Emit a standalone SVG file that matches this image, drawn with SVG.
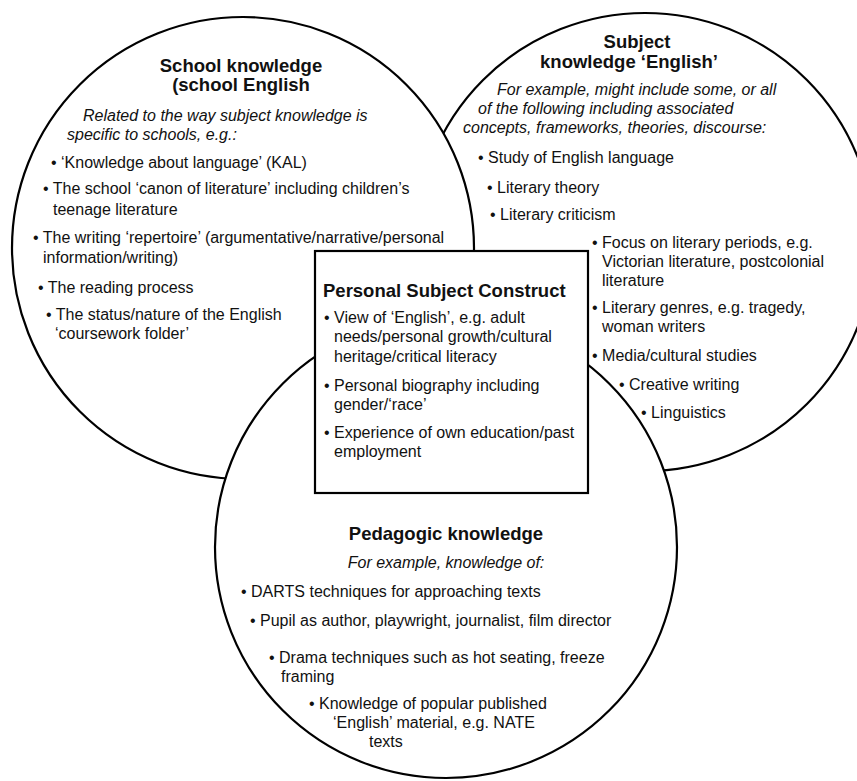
<svg xmlns="http://www.w3.org/2000/svg" width="857" height="781" viewBox="0 0 857 781">
<style>
.c{fill:#fff;stroke:#000;stroke-width:2.2}
text{font-family:"Liberation Sans",Arial,sans-serif;fill:#111;font-size:16px}
.t{font-weight:bold;font-size:18.5px}
.i{font-style:italic}
.m{text-anchor:middle}
</style>
<rect width="857" height="781" fill="#fff"/>
<g id="subject-knowledge">
<circle class="c" cx="645" cy="242" r="229"/>
<text class="t m" x="637" y="48">Subject</text>
<text class="t m" x="629" y="68">knowledge ‘English’</text>
<text class="i" x="497" y="95">For example, might include some, or all</text>
<text class="i" x="478" y="114">of the following including associated</text>
<text class="i" x="463" y="133">concepts, frameworks, theories, discourse:</text>
<text x="478" y="163">• Study of English language</text>
<text x="487" y="193">• Literary theory</text>
<text x="490" y="220">• Literary criticism</text>
<text x="592" y="248">• Focus on literary periods, e.g.<tspan x="602" y="267">Victorian literature, postcolonial</tspan><tspan x="602" y="286">literature</tspan></text>
<text x="592" y="313">• Literary genres, e.g. tragedy,<tspan x="602" y="332">woman writers</tspan></text>
<text x="592" y="361">• Media/cultural studies</text>
<text x="619" y="390">• Creative writing</text>
<text x="641" y="418">• Linguistics</text>
</g>
<g id="school-knowledge">
<circle class="c" cx="243" cy="248" r="231"/>
<text class="t m" x="241" y="72">School knowledge</text>
<text class="t m" x="241" y="91">(school English</text>
<text class="i" x="83" y="121">Related to the way subject knowledge is</text>
<text class="i" x="67" y="140">specific to schools, e.g.:</text>
<text x="51" y="168">• ‘Knowledge about language’ (KAL)</text>
<text x="43" y="194">• The school ‘canon of literature’ including children’s<tspan x="53" y="215">teenage literature</tspan></text>
<text x="33" y="243">• The writing ‘repertoire’ (argumentative/narrative/personal<tspan x="43" y="263">information/writing)</tspan></text>
<text x="38" y="293">• The reading process</text>
<text x="46" y="320">• The status/nature of the English<tspan x="55" y="339">‘coursework folder’</tspan></text>
</g>
<g id="pedagogic-knowledge">
<circle class="c" cx="446" cy="547" r="231"/>
<text class="t m" x="446" y="540">Pedagogic knowledge</text>
<text class="i m" x="446" y="568">For example, knowledge of:</text>
<text x="241" y="597">• DARTS techniques for approaching texts</text>
<text x="250" y="626">• Pupil as author, playwright, journalist, film director</text>
<text x="269" y="663">• Drama techniques such as hot seating, freeze<tspan x="281" y="682">framing</tspan></text>
<text x="309" y="709">• Knowledge of popular published<tspan x="333" y="728">‘English’ material, e.g. NATE</tspan><tspan x="369" y="747">texts</tspan></text>
</g>
<g id="personal-subject-construct">
<rect class="c" x="315" y="251" width="273" height="242"/>
<text class="t" x="323" y="297">Personal Subject Construct</text>
<text x="324" y="323">• View of ‘English’, e.g. adult<tspan x="334" y="342">needs/personal growth/cultural</tspan><tspan x="334" y="362">heritage/critical literacy</tspan></text>
<text x="324" y="391">• Personal biography including<tspan x="334" y="410">gender/‘race’</tspan></text>
<text x="324" y="438">• Experience of own education/past<tspan x="334" y="457">employment</tspan></text>
</g>
<g id="connectors"></g>
</svg>
